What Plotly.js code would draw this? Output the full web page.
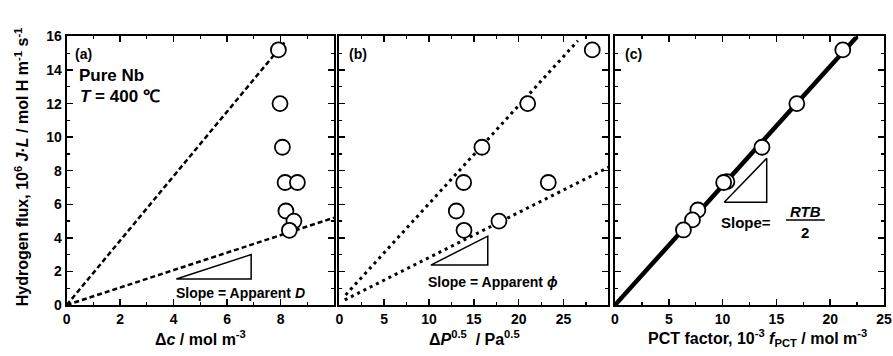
<!DOCTYPE html>
<html>
<head>
<meta charset="utf-8">
<script src="https://cdn.plot.ly/plotly-3.0.1.min.js"></script>
<style>html,body{margin:0;padding:0;background:#fff;}#chart{width:893px;height:356px;}</style>
</head>
<body>
<div id="chart"></div>
<script>
// ---- data ----
const flux      = [15.2, 12.0, 9.4, 7.3, 7.3, 5.6, 5.0, 4.45];   // 10^6 J·L
const deltaC    = [7.92, 7.98, 8.07, 8.17, 8.63, 8.20, 8.50, 8.33]; // panel (a)
const deltaP05  = [28.2, 21.0, 15.9, 13.86, 23.3, 13.04, 17.8, 13.9]; // panel (b)
const fluxC     = [15.2, 12.0, 9.4, 7.35, 7.3, 5.66, 5.07, 4.47];
const fPCT      = [21.17, 16.9, 13.66, 10.4, 10.1, 7.7, 7.2, 6.36]; // panel (c)

// fitted / guide lines
const aSteepX = [0, 8.2],   aSteepY = [0, 15.75];
const aFlatX  = [0, 10],    aFlatY  = [0, 5.2];
const bSteepX = [0.7, 26.6], bSteepY = [0.6, 15.75];
const bFlatX  = [0.6, 30],  bFlatY  = [0.3, 8.2];
const cFitX   = [0, 22.5],  cFitY   = [0, 16];

// slope triangles
const triAX = [4.1, 6.9, 6.9, 4.1],   triAY = [1.55, 1.55, 3.0, 1.55];
const triBX = [10.2, 16.55, 16.55, 10.2], triBY = [2.38, 2.38, 4.1, 2.38];
const triCX = [10.15, 14.1, 14.1, 10.15], triCY = [6.12, 6.12, 8.74, 6.12];
const fracBarX = [15.9, 19.5], fracBarY = [5.07, 5.07];

// tick spacing (major / minor) and axis ranges
const yRange = [0, 16], yDtick = 2, yMinor = 1;
const aRange = [0, 9.999], aDtick = 2, aMinor = 1;
const bRange = [0, 29.99], bDtick = 5, bMinor = 2.5;
const cRange = [0, 25],    cDtick = 5, cMinor = 2.5;

const FONT = 'Liberation Sans, Arial, sans-serif';
const marker = {symbol: 'circle', size: 15, color: '#fff', line: {color: '#000', width: 1.8}};

function line(x, y, xa, ya, dash, w) {
  return {x, y, xaxis: xa, yaxis: ya, mode: 'lines', hoverinfo: 'skip',
    line: {color: '#000', width: w, dash: dash}, showlegend: false};
}
const traces = [
  line(aSteepX, aSteepY, 'x', 'y', '5px,3px', 2.5),
  line(aFlatX, aFlatY, 'x', 'y', '5px,3px', 2.5),
  line(triAX, triAY, 'x', 'y', 'solid', 1.5),
  {x: deltaC, y: flux, xaxis: 'x', yaxis: 'y', mode: 'markers', marker, showlegend: false},

  line(bSteepX, bSteepY, 'x2', 'y2', '3px,4px', 3),
  line(bFlatX, bFlatY, 'x2', 'y2', '3px,4px', 3),
  line(triBX, triBY, 'x2', 'y2', 'solid', 1.5),
  {x: deltaP05, y: flux, xaxis: 'x2', yaxis: 'y2', mode: 'markers', marker, showlegend: false},

  line(cFitX, cFitY, 'x3', 'y3', 'solid', 4.5),
  line(triCX, triCY, 'x3', 'y3', 'solid', 1.5),
  line(fracBarX, fracBarY, 'x3', 'y3', 'solid', 1.5),
  {x: fPCT, y: fluxC, xaxis: 'x3', yaxis: 'y3', mode: 'markers', marker, showlegend: false}
];

const tickFont = {family: FONT, size: 14, color: '#000', weight: 'bold'};
function common(range, dtick, minor) {
  return {range, tickmode: 'linear', tick0: 0, dtick,
    ticks: 'inside', ticklen: 6, tickwidth: 1.5, tickcolor: '#000',
    minor: {ticks: 'inside', ticklen: 3, tickwidth: 1.2, tickcolor: '#000', tickmode: 'linear', tick0: 0, dtick: minor, showgrid: false},
    showline: true, linewidth: 2, linecolor: '#000', mirror: 'ticks',
    showgrid: false, zeroline: false, tickfont: tickFont, fixedrange: true};
}
function xAxis(domain, range, dtick, minor, anchor) {
  return Object.assign(common(range, dtick, minor), {domain, anchor});
}
function yAxis(anchor, showLabels) {
  return Object.assign(common(yRange, yDtick, yMinor), {domain: [0.1433, 0.8975], anchor, showticklabels: showLabels});
}

function txt(text, x, y, xref, yref, size, xanchor, extra) {
  return Object.assign({text, x, y, xref, yref, showarrow: false, xanchor: xanchor || 'left', yanchor: 'middle',
    font: {family: FONT, size: size, color: '#000', weight: 'bold'}}, extra || {});
}

const annotations = [
  txt('(a)', 0.25, 14.96, 'x', 'y', 14),
  txt('Pure Nb', 0.4, 13.65, 'x', 'y', 17),
  txt('<i>T</i> = 400 ℃', 0.44, 12.4, 'x', 'y', 17),
  txt('Slope = Apparent <i>D</i>', 4.0, 0.72, 'x', 'y', 14),
  txt('(b)', 0.8, 14.96, 'x2', 'y2', 14),
  txt('Slope = Apparent <i>ϕ</i>', 9.7, 1.37, 'x2', 'y2', 14),
  txt('(c)', 0.7, 14.96, 'x3', 'y3', 14),
  txt('Slope=', 9.7, 4.89, 'x3', 'y3', 15),
  txt('<i>RTB</i>', 17.7, 5.56, 'x3', 'y3', 15, 'center'),
  txt('2', 17.7, 4.3, 'x3', 'y3', 15, 'center'),
  txt('Hydrogen flux, 10<sup>6</sup> <i>J</i>·<i>L</i> / mol H m<sup>-1</sup> s<sup>-1</sup>',
      22/893, 0.53, 'paper', 'paper', 16, 'center', {textangle: -90}),
  txt('Δ<i>c</i> / mol m<sup>-3</sup>', 200/893, 0.05, 'paper', 'paper', 16, 'center'),
  txt('Δ<i>P</i><sup>0.5</sup>  / Pa<sup>0.5</sup>', 474/893, 0.05, 'paper', 'paper', 16, 'center'),
  txt('PCT factor, 10<sup>-3</sup> <i>f</i><sub>PCT</sub> / mol m<sup>-3</sup>', 757/893, 0.05, 'paper', 'paper', 16, 'center')
];

const layout = {
  width: 893, height: 356, margin: {l: 0, r: 0, t: 0, b: 0},
  paper_bgcolor: '#fff', plot_bgcolor: '#fff', showlegend: false,
  xaxis:  xAxis([0.0747, 0.3740], aRange, aDtick, aMinor, 'y'),
  xaxis2: xAxis([0.3800, 0.6812], bRange, bDtick, bMinor, 'y2'),
  xaxis3: xAxis([0.6887, 0.9899], cRange, cDtick, cMinor, 'y3'),
  yaxis:  yAxis('x', true),
  yaxis2: yAxis('x2', false),
  yaxis3: yAxis('x3', false),
  annotations
};

Plotly.newPlot('chart', traces, layout, {staticPlot: true, displayModeBar: false});
</script>
</body>
</html>
